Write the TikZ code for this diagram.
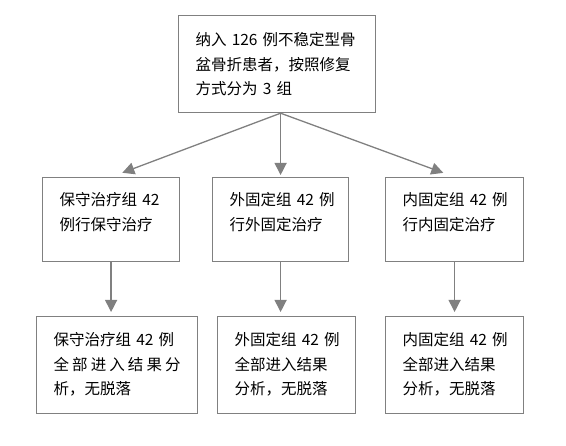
\documentclass[tikz,border=0pt]{standalone}
\usepackage{fontspec}
\setmainfont{Noto Sans CJK SC}
\usetikzlibrary{arrows.meta}
\definecolor{linegray}{RGB}{128,128,128}

\begin{document}
\begin{tikzpicture}[x=1pt,y=-1pt,
  box/.style={draw=linegray, line width=1.2pt, anchor=north west,
    inner xsep=17pt, inner ysep=0pt, align=left,
    font=\fontsize{15.5}{24.5}\selectfont},
  midbox/.style={box, text height=28pt, text depth=56pt},
  botbox/.style={box, text height=29pt, text depth=68pt},
  arr/.style={draw=linegray, line width=1.3pt,
    -{Triangle[width=12pt,length=12pt]}}]

% Page frame
\useasboundingbox (0,0) rectangle (566,446);

% Top box
\node[box, text width=163pt, text height=30pt, text depth=67pt] (top) at (178,15)
  {纳入~126~例不稳定型骨\\盆骨折患者，按照修复\\方式分为~3~组};

% Treatment groups
\node[midbox, text width=103pt] (midL) at (42,177) {保守治疗组~42\\例行保守治疗};
\node[midbox, text width=102pt] (midM) at (212,177) {外固定组~42~例\\行外固定治疗};
\node[midbox, text width=104pt] (midR) at (385,177) {内固定组~42~例\\行内固定治疗};

% Analysis boxes
\node[botbox, text width=127pt] (botL) at (36,316)
  {保守治疗组~42~例\\\makebox[\linewidth][l]{全\hfill 部\hfill 进\hfill 入\hfill 结\hfill 果\hfill 分}\\析，无脱落};
\node[botbox, text width=104pt] (botM) at (217,316) {外固定组~42~例\\全部进入结果\\分析，无脱落};
\node[botbox, text width=104pt] (botR) at (385,316) {内固定组~42~例\\全部进入结果\\分析，无脱落};

% Split point under the top box
\coordinate (split) at (top.south -| midM.north);

% Arrows
\draw[arr, shorten >=12pt] (split) -- (midL.north);
\draw[arr, shorten >=2pt] (split) -- (midM.north);
\draw[arr, shorten >=12pt] (split) -- (midR.north);

\draw[arr, shorten >=4pt] (midL.south) -- (midL.south |- botL.north);
\draw[arr, shorten >=4pt] (midM.south) -- (midM.south |- botM.north);
\draw[arr, shorten >=4pt] (midR.south) -- (midR.south |- botR.north);

\end{tikzpicture}
\end{document}
